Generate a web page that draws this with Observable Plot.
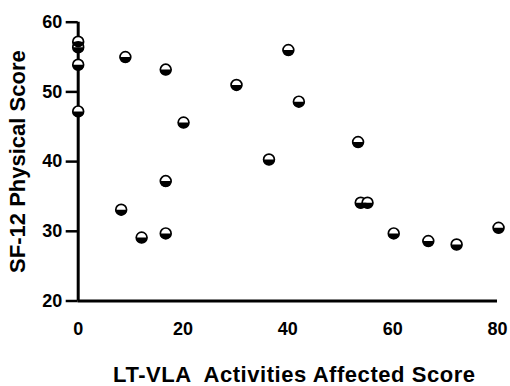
<!DOCTYPE html>
<html>
<head>
<meta charset="utf-8">
<script src="https://cdn.jsdelivr.net/npm/d3@7"></script>
<script src="https://cdn.jsdelivr.net/npm/@observablehq/plot@0.6"></script>
<style>
  html, body { margin: 0; padding: 0; background: #fff; }
  svg { display: block; }
</style>
</head>
<body>
<div id="chart"></div>
<script>
// Data
const activitiesScore = [0, 0, 0, 0, 9.0, 16.7, 30.2, 20.1, 16.7, 8.2, 12.1, 16.7, 40.1, 42.1, 53.4, 36.4, 53.9, 55.2, 60.2, 66.8, 72.2, 80.2];
const physicalScore   = [57.2, 56.4, 53.9, 47.2, 55.0, 53.2, 51.0, 45.6, 37.2, 33.1, 29.1, 29.7, 56.0, 48.6, 42.8, 40.3, 34.1, 34.1, 29.7, 28.6, 28.1, 30.5];
const xTicks = [0, 20, 40, 60, 80];
const yTicks = [20, 30, 40, 50, 60];
const xLabel = "LT-VLA  Activities Affected Score";
const yLabel = "SF-12 Physical Score";

const points = activitiesScore.map((x, i) => ({x, y: physicalScore[i]}));

// lower half-disc symbol
const halfBottom = {
  draw(context, size) {
    const r = Math.sqrt(size / Math.PI);
    context.moveTo(r, 0);
    context.arc(0, 0, r, 0, Math.PI);
    context.closePath();
  }
};

const font = "'Liberation Sans', Arial, sans-serif";

const chart = Plot.plot({
  width: 510,
  height: 386,
  marginLeft: 77.7,
  marginRight: 13,
  marginTop: 21.7,
  marginBottom: 85.5,
  style: {fontFamily: font, background: "white"},
  x: {domain: [0, 80]},
  y: {domain: [20, 60]},
  marks: [
    Plot.axisY({ticks: yTicks, tickSize: 12, tickPadding: 4, strokeWidth: 2.5, fontSize: 18, fontWeight: "bold", fill: "#000", stroke: "#000", label: null}),
    Plot.axisX({ticks: xTicks, tickSize: 0, tickPadding: 21, fontSize: 18, fontWeight: "bold", fill: "#000", label: null}),
    Plot.ruleX([0], {y1: 20, y2: 60, stroke: "black", strokeWidth: 3}),
    Plot.ruleY([20], {x1: 0, x2: 80, stroke: "black", strokeWidth: 3}),
    Plot.dot(points, {x: "x", y: "y", r: 5.4, fill: "white", stroke: "black", strokeWidth: 1.7}),
    Plot.dot(points, {x: "x", y: "y", r: 5.7, symbol: halfBottom, fill: "black", stroke: "none"}),
    Plot.text([xLabel], {frameAnchor: "bottom", dx: 6.5, dy: 80.5, lineAnchor: "bottom", textAnchor: "middle", fontSize: 22, fontWeight: "bold", fill: "black", text: d => d}),
    Plot.text([yLabel], {frameAnchor: "left", dx: -52.7, rotate: -90, lineAnchor: "bottom", textAnchor: "middle", fontSize: 22, fontWeight: "bold", fill: "black", text: d => d})
  ]
});

// letter spacing on the x label
d3.select(chart).selectAll("text").filter(function() { return this.textContent === xLabel; }).attr("letter-spacing", 0.55);

document.getElementById("chart").appendChild(chart);
</script>
</body>
</html>
